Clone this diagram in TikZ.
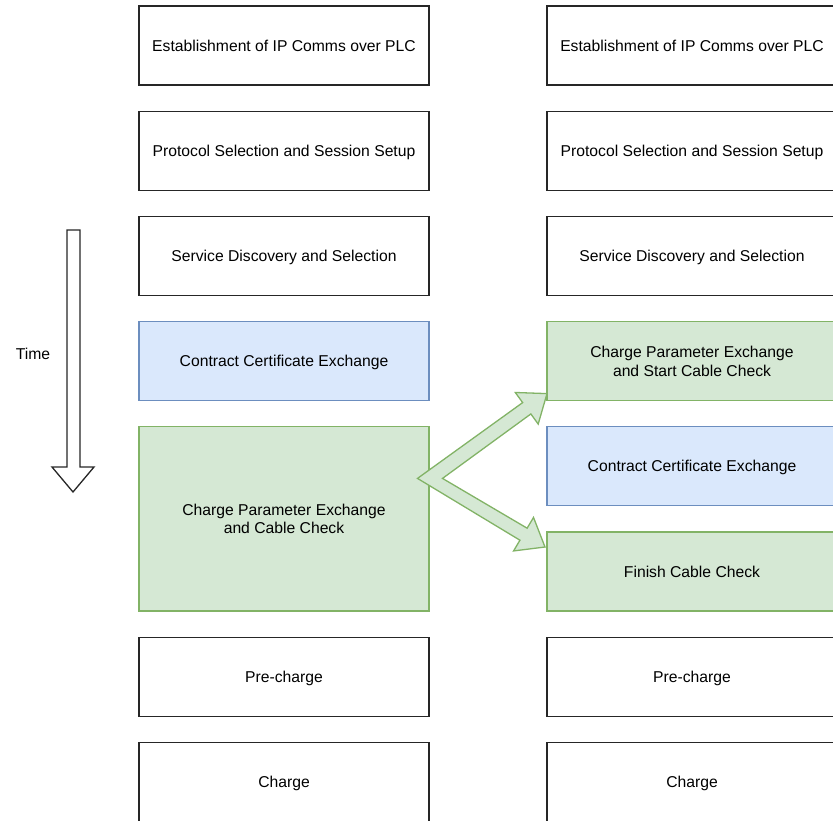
\documentclass[tikz,border=0pt]{standalone}
\usepackage{fontspec}
\setmainfont{Liberation Sans}
\usetikzlibrary{
	positioning		% Allows below=of placement
	, calc			% Allows points along and across the arrows
}
\definecolor{bluefill}{HTML}{DAE8FC}
\definecolor{blueline}{HTML}{6C8EBF}
\definecolor{greenfill}{HTML}{D5E8D4}
\definecolor{greenline}{HTML}{82B366}

\begin{document}
\begin{tikzpicture}[
		x=1pt, y=-1pt
		, font=\fontsize{15.7}{18.7}\selectfont
		, stepbox/.style={draw=black!85, line width=1.3pt, rectangle, outer sep=0pt, minimum width=290pt, minimum height=79pt, align=center, text depth=0pt}
		, bluebox/.style={stepbox, draw=blueline, fill=bluefill}
		, greenbox/.style={stepbox, draw=greenline, fill=greenfill}
		, flexarrow/.style={draw=greenline, fill=greenfill, line width=1.3pt}
		, timearrow/.style={draw=black!85, line width=1.3pt, fill=white}
		, node distance=26.2pt]

		%%% Page frame
		\useasboundingbox (0,0) rectangle (833,820);
		\clip (0,0) rectangle (833,820);

		%%% Steps shared by both sequences
		\foreach [count=\i] \step/\steptext in {estab/Establishment of IP Comms over PLC, proto/Protocol Selection and Session Setup, serv/Service Discovery and Selection} {

			% Same step on the left and on the right
			\node[stepbox] (left\step) at (284, {45.5 + 105.2 * (\i - 1)}) {\steptext};
			\node[stepbox] (right\step) at (692, {45.5 + 105.2 * (\i - 1)}) {\steptext};
		};

		%% Left sequence
		\node[bluebox, below=of leftserv] (leftcert) {Contract Certificate Exchange};
		\node[greenbox, below=of leftcert, minimum height=184.2pt] (leftcpe) {Charge Parameter Exchange\\and Cable Check};
		\node[stepbox, below=of leftcpe] (leftprecharge) {Pre-charge};
		\node[stepbox, below=of leftprecharge] (leftcharge) {Charge};

		%% Right sequence
		\node[greenbox, below=of rightserv] (rightcpsc) {Charge Parameter Exchange\\and Start Cable Check};
		\node[bluebox, below=of rightcpsc] (rightcert) {Contract Certificate Exchange};
		\node[greenbox, below=of rightcert] (rightfcc) {Finish Cable Check};
		\node[stepbox, below=of rightfcc] (rightprecharge) {Pre-charge};
		\node[stepbox, below=of rightprecharge] (rightcharge) {Charge};

		%%% Time axis
		\node (timelabel) at (33, 354) {Time};
		\draw[timearrow] (67,230) -- (80,230) -- (80,467) -- (94,467) -- (73,492) -- (52,467) -- (67,467) -- cycle;

		%%% Split of the cable check
		\coordinate (fork) at ($(leftcpe.east)+(-11.5,-40.5)$);
		\coordinate (forkaxis) at ($(fork)+(12.5,0)$);
		\coordinate (forkinner) at ($(fork)+(25,0)$);
		\coordinate (uptip) at ($(rightcpsc.south west)+(0,-7)$);
		\coordinate (downtip) at ($(rightfcc.north west)+(-2,15)$);
		\coordinate (uphead) at ($(uptip)!25pt!(forkaxis)$);
		\coordinate (downhead) at ($(downtip)!25pt!(forkaxis)$);

		\path[flexarrow] (fork)
			-- ($(uphead)!7pt!90:(uptip)$) -- ($(uphead)!19.5pt!90:(uptip)$) -- (uptip)
			-- ($(uphead)!19.5pt!-90:(uptip)$) -- ($(uphead)!7pt!-90:(uptip)$)
			-- (forkinner)
			-- ($(downhead)!7pt!90:(downtip)$) -- ($(downhead)!19.5pt!90:(downtip)$) -- (downtip)
			-- ($(downhead)!19.5pt!-90:(downtip)$) -- ($(downhead)!7pt!-90:(downtip)$)
			-- cycle;
	\end{tikzpicture}
\end{document}
